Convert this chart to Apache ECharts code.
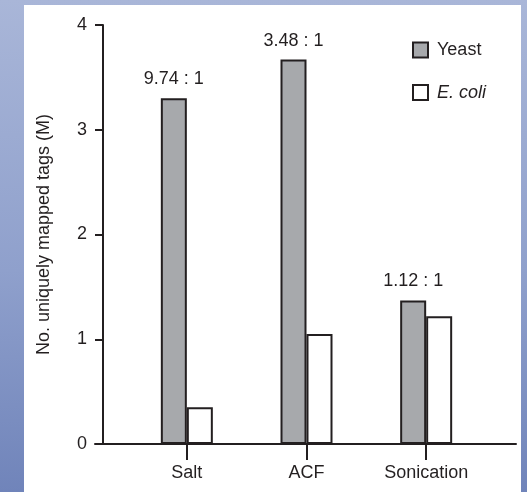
<!DOCTYPE html>
<html>
<head>
<meta charset="utf-8">
<script src="https://cdn.jsdelivr.net/npm/echarts@6/dist/echarts.min.js"></script>
<style>
  html, body { margin: 0; padding: 0; }
  body {
    width: 527px; height: 492px; position: relative; overflow: hidden;
    background: linear-gradient(180deg, #a9b6d8 0%, #8fa0cc 55%, #7084ba 100%);
  }
  #panel { position: absolute; left: 24px; top: 5px; width: 497px; height: 487px; background: #ffffff; }
  #chart { position: absolute; left: 0; top: 0; width: 527px; height: 492px; }
</style>
</head>
<body>
<div id="panel"></div>
<div id="chart"></div>
<script>
const categories = ['Salt', 'ACF', 'Sonication'];
const yeastValues = [3.30, 3.67, 1.37];
const ecoliValues = [0.35, 1.05, 1.22];
const ratioLabels = ['9.74 : 1', '3.48 : 1', '1.12 : 1'];
const yTicks = [0, 1, 2, 3, 4];

const ink = '#231f20';
const font = '"Liberation Sans", Arial, Helvetica, sans-serif';

const chart = echarts.init(document.getElementById('chart'), null, { renderer: 'canvas' });
chart.setOption({
  backgroundColor: 'transparent',
  animation: false,
  textStyle: { fontFamily: font, color: ink },
  grid: [
    { left: 127, right: 41, top: 25, bottom: 48, containLabel: false },
    { left: 95, right: 11, top: 25, bottom: 48, containLabel: false }
  ],
  legend: {
    orient: 'vertical',
    left: 407, top: 36,
    itemWidth: 15, itemHeight: 15, itemGap: 24.5,
    icon: 'rect',
    textStyle: { fontSize: 18, color: ink, fontFamily: font, padding: [0, 0, 0, 4] },
    data: [
      { name: 'Yeast' },
      { name: 'E. coli', textStyle: { fontStyle: 'italic' } }
    ]
  },
  xAxis: [
    {
      type: 'category', gridIndex: 0, data: categories, boundaryGap: true,
      axisLine: { show: true, lineStyle: { color: ink, width: 2 } },
      axisTick: { show: true, alignWithLabel: true, length: 16, lineStyle: { color: ink, width: 2 } },
      axisLabel: { color: ink, fontSize: 18, fontFamily: font, margin: 20 },
      splitLine: { show: false }
    },
    {
      type: 'value', gridIndex: 1, min: 0, max: 1,
      axisLine: { show: true, lineStyle: { color: ink, width: 2 } },
      axisTick: { show: false }, axisLabel: { show: false }, splitLine: { show: false }
    }
  ],
  yAxis: [
    {
      type: 'value', gridIndex: 0, min: yTicks[0], max: yTicks[yTicks.length - 1], interval: 1,
      offset: 24,
      name: 'No. uniquely mapped tags (M)',
      nameLocation: 'middle', nameGap: 50, nameRotate: 90,
      nameTextStyle: { fontSize: 18, color: ink, fontFamily: font },
      axisLine: { show: true, lineStyle: { color: ink, width: 2 } },
      axisTick: { show: true, length: 8, lineStyle: { color: ink, width: 2 } },
      axisLabel: { color: ink, fontSize: 18, fontFamily: font, margin: 16 },
      splitLine: { show: false }
    },
    { type: 'value', gridIndex: 1, show: false, min: 0, max: 1 }
  ],
  series: [
    {
      name: 'Yeast', type: 'bar', xAxisIndex: 0, yAxisIndex: 0,
      data: yeastValues, barWidth: 26, barGap: '0%',
      itemStyle: { color: '#a7a9ac', borderColor: ink, borderWidth: 2 },
      label: {
        show: true, position: 'top', distance: 10,
        fontSize: 18, color: ink, fontFamily: font,
        formatter: p => ratioLabels[p.dataIndex]
      }
    },
    {
      name: 'E. coli', type: 'bar', xAxisIndex: 0, yAxisIndex: 0,
      data: ecoliValues, barWidth: 26, barGap: '0%',
      itemStyle: { color: '#ffffff', borderColor: ink, borderWidth: 2 }
    }
  ]
});
</script>
</body>
</html>
